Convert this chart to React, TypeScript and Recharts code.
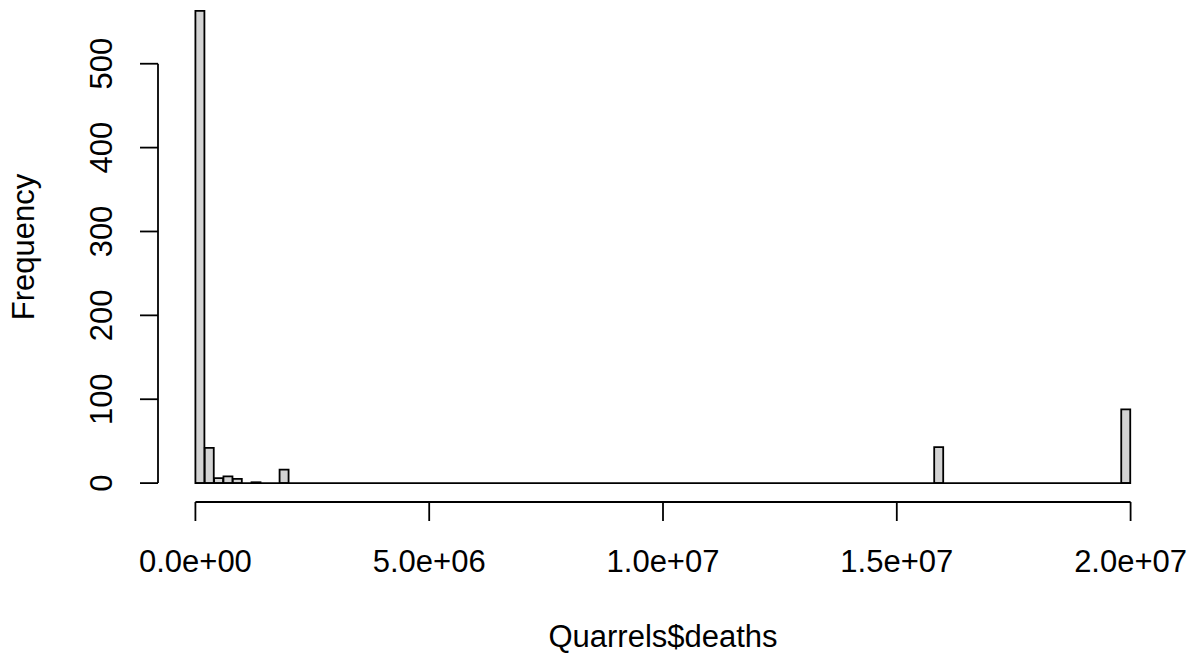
import React from 'react';
import { ComposedChart, Bar, XAxis, YAxis, ReferenceLine, Label } from 'recharts';

// Histogram of Quarrels$deaths, bins of width 200,000 from 0 to 2.0e7
const binWidth = 200000;
const counts = [
  563, 42, 6, 8, 5, 0, 1, 0, 0, 16,
  0, 0, 0, 0, 0, 0, 0, 0, 0, 0,
  0, 0, 0, 0, 0, 0, 0, 0, 0, 0,
  0, 0, 0, 0, 0, 0, 0, 0, 0, 0,
  0, 0, 0, 0, 0, 0, 0, 0, 0, 0,
  0, 0, 0, 0, 0, 0, 0, 0, 0, 0,
  0, 0, 0, 0, 0, 0, 0, 0, 0, 0,
  0, 0, 0, 0, 0, 0, 0, 0, 0, 43,
  0, 0, 0, 0, 0, 0, 0, 0, 0, 0,
  0, 0, 0, 0, 0, 0, 0, 0, 0, 88,
];
const xTicks = [0, 5e6, 1e7, 1.5e7, 2e7];
const yTicks = [0, 100, 200, 300, 400, 500];
const xLabel = 'Quarrels$deaths';
const yLabel = 'Frequency';

const data = counts.map((c, i) => ({ mid: (i + 0.5) * binWidth, count: c }));

const xDataMin = 0;
const xDataMax = counts.length * binWidth;
const xPad = (xDataMax - xDataMin) * 0.04;
const yMaxCount = Math.max(...counts);
const yPad = yMaxCount * 0.04;

const FONT = '"Liberation Sans", Arial, Helvetica, sans-serif';
const FS = 31;

function fmtExp(v: number): string {
  const [m, e] = v.toExponential(1).split('e');
  const sign = e[0];
  const digits = e.slice(1).padStart(2, '0');
  return `${m}e${sign}${digits}`;
}

const XTick = (props: any) => {
  const { x, y, payload } = props;
  return (
    <text x={x} y={y} dy={49} textAnchor="middle" fontFamily={FONT} fontSize={FS} fill="#000">
      {fmtExp(payload.value)}
    </text>
  );
};

const YTick = (props: any) => {
  const { x, y, payload } = props;
  const bx = x - 26;
  return (
    <text
      x={bx}
      y={y}
      textAnchor="middle"
      transform={`rotate(-90, ${bx}, ${y})`}
      fontFamily={FONT}
      fontSize={FS}
      fill="#000"
    >
      {String(payload.value)}
    </text>
  );
};

const XTitle = (props: any) => {
  const vb = props.viewBox;
  return (
    <text x={vb.x + vb.width / 2} y={vb.y + 145} textAnchor="middle" fontFamily={FONT} fontSize={FS} fill="#000">
      {xLabel}
    </text>
  );
};

const YTitle = (props: any) => {
  const vb = props.viewBox;
  const cx = 34;
  const cy = vb.y + vb.height / 2;
  return (
    <text x={cx} y={cy} textAnchor="middle" transform={`rotate(-90, ${cx}, ${cy})`} fontFamily={FONT} fontSize={FS} fill="#000">
      {yLabel}
    </text>
  );
};

export default function App() {
  return (
    <div style={{ position: 'absolute', left: 0, top: 0, width: 1196, height: 655, background: '#fff' }}>
      <ComposedChart
        width={1196}
        height={655}
        data={data}
        margin={{ top: -8, right: 28, bottom: 0, left: 0 }}
        barCategoryGap={0}
        barGap={0}
      >
        <XAxis
          dataKey="mid"
          type="number"
          domain={[xDataMin - xPad, xDataMax + xPad]}
          ticks={xTicks}
          interval={0}
          height={153}
          axisLine={false}
          tickLine={{ stroke: '#000', strokeWidth: 1.8 }}
          tickSize={19}
          tickMargin={2}
          tick={<XTick />}
          allowDataOverflow
        >
          <Label content={<XTitle />} />
        </XAxis>
        <YAxis
          type="number"
          domain={[-yPad, yMaxCount + yPad]}
          ticks={yTicks}
          interval={0}
          width={158}
          axisLine={false}
          tickLine={{ stroke: '#000', strokeWidth: 1.8 }}
          tickSize={18}
          tickMargin={2}
          tick={<YTick />}
          allowDataOverflow
        >
          <Label content={<YTitle />} />
        </YAxis>
        <ReferenceLine
          segment={[{ x: xDataMin, y: -yPad }, { x: xDataMax, y: -yPad }]}
          stroke="#000"
          strokeWidth={1.8}
          ifOverflow="visible"
        />
        <ReferenceLine
          segment={[{ x: xDataMin - xPad, y: yTicks[0] }, { x: xDataMin - xPad, y: yTicks[yTicks.length - 1] }]}
          stroke="#000"
          strokeWidth={1.8}
          ifOverflow="visible"
        />
        <ReferenceLine
          segment={[{ x: xDataMin, y: 0 }, { x: xDataMax, y: 0 }]}
          stroke="#000"
          strokeWidth={1.8}
          ifOverflow="visible"
        />
        <Bar dataKey="count" fill="#D3D3D3" stroke="#000" strokeWidth={1.8} isAnimationActive={false} />
      </ComposedChart>
    </div>
  );
}
